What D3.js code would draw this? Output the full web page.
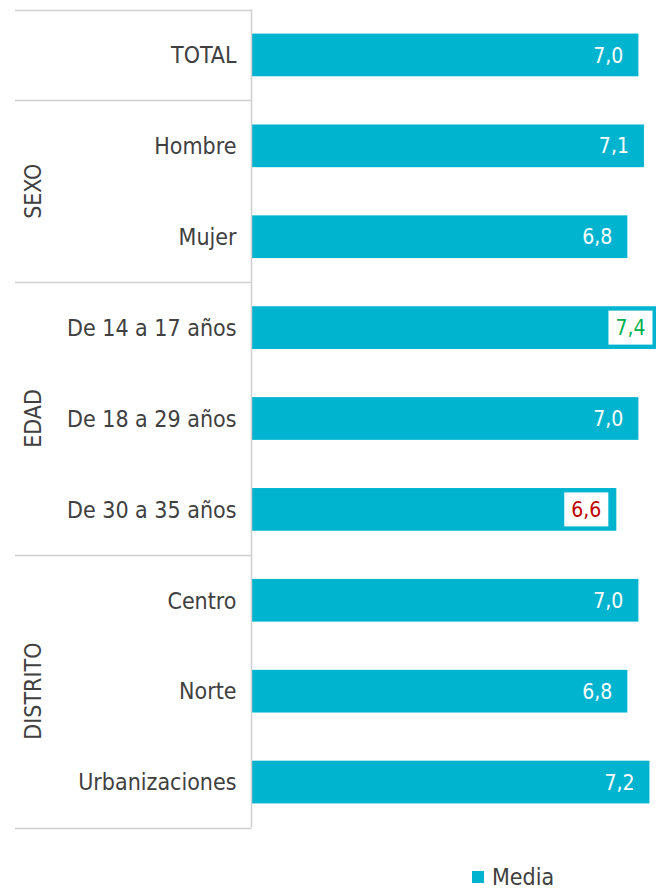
<!DOCTYPE html>
<html>
<head>
<meta charset="utf-8">
<script src="https://cdn.jsdelivr.net/npm/d3@7"></script>
<style>
  html, body { margin: 0; padding: 0; background: #ffffff; }
  svg { display: block; }
  text { font-family: "DejaVu Sans Condensed", "DejaVu Sans", sans-serif; }
</style>
</head>
<body>
<svg id="chart" width="656" height="890"></svg>
<script>
// Average score by segment
const categories = ["TOTAL", "Hombre", "Mujer", "De 14 a 17 años", "De 18 a 29 años", "De 30 a 35 años", "Centro", "Norte", "Urbanizaciones"];
const values = [7.0, 7.1, 6.8, 7.4, 7.0, 6.6, 7.0, 6.8, 7.2];
// Highlight per row: "" plain, "high" above average, "low" below average
const highlights = ["", "", "", "high", "", "low", "", "", ""];
// Grouping of rows (group name, first row, last row)
const groupNames = ["", "SEXO", "EDAD", "DISTRITO"];
const groupStart = [0, 1, 3, 6];
const groupEnd = [0, 2, 5, 8];
const seriesName = "Media";

const barColor = "#00B4CF";
const textColor = "#404040";
const lineColor = "#D0D0D0";

const svg = d3.select("#chart");
const axisX = 251.5;
const plotTop = 9.5, plotBottom = 827.5;
const groupLeft = 15;

const y = d3.scaleBand()
  .domain(d3.range(categories.length))
  .range([plotTop, plotBottom])
  .paddingInner(0.53)
  .paddingOuter(0.265);

const x = d3.scaleLinear().domain([0, 7.4]).range([axisX + 0.5, axisX + 0.5 + 7.4 * 55.2]);

// bars
svg.append("g").selectAll("rect")
  .data(values)
  .join("rect")
  .attr("x", x(0))
  .attr("y", (d, i) => y(i))
  .attr("width", d => x(d) - x(0))
  .attr("height", y.bandwidth())
  .attr("fill", barColor);

// value labels
const fmt = v => d3.format(".1f")(v).replace(".", ",");
const lab = svg.append("g");
values.forEach((v, i) => {
  const cy = y(i) + y.bandwidth() / 2;
  const g = lab.append("g");
  const t = g.append("text")
    .attr("x", x(v) - 15)
    .attr("y", cy)
    .attr("dy", "0.36em")
    .attr("text-anchor", "end")
    .attr("font-size", 21)
    .attr("fill", highlights[i] === "high" ? "#00B050" : highlights[i] === "low" ? "#C00000" : "#ffffff")
    .text(fmt(v));
  if (highlights[i]) {
    const bb = t.node().getBBox();
    g.insert("rect", "text")
      .attr("x", bb.x - 7)
      .attr("y", cy - 17)
      .attr("width", bb.width + 14)
      .attr("height", 34)
      .attr("fill", "#ffffff");
  }
});

// category labels
svg.append("g").selectAll("text")
  .data(categories)
  .join("text")
  .attr("x", axisX - 15)
  .attr("y", (d, i) => y(i) + y.bandwidth() / 2)
  .attr("dy", "0.36em")
  .attr("text-anchor", "end")
  .attr("font-size", 23)
  .attr("fill", textColor)
  .text(d => d);

// group separators and axis line
const rowEdge = i => plotTop + i * (plotBottom - plotTop) / categories.length;
const sepRows = [0, 1, 3, 6, 9];
svg.append("g").selectAll("line")
  .data(sepRows)
  .join("line")
  .attr("x1", groupLeft)
  .attr("x2", axisX)
  .attr("y1", d => Math.round(rowEdge(d)) + 0.5)
  .attr("y2", d => Math.round(rowEdge(d)) + 0.5)
  .attr("stroke", lineColor)
  .attr("stroke-width", 1.5);

svg.append("line")
  .attr("x1", axisX).attr("x2", axisX)
  .attr("y1", plotTop).attr("y2", plotBottom)
  .attr("stroke", lineColor)
  .attr("stroke-width", 1.5);

// group labels (rotated)
groupNames.forEach((name, k) => {
  if (!name) return;
  const cy = (rowEdge(groupStart[k]) + rowEdge(groupEnd[k] + 1)) / 2;
  svg.append("text")
    .attr("transform", `translate(33,${cy}) rotate(-90)`)
    .attr("text-anchor", "middle")
    .attr("dy", "0.36em")
    .attr("font-size", 23)
    .attr("fill", textColor)
    .text(name);
});

// legend
const leg = svg.append("g").attr("transform", "translate(472,871)");
leg.append("rect").attr("width", 12).attr("height", 12).attr("fill", barColor);
leg.append("text")
  .attr("x", 20).attr("y", 6).attr("dy", "0.36em")
  .attr("font-size", 23)
  .attr("fill", textColor)
  .text(seriesName);
</script>
</body>
</html>
